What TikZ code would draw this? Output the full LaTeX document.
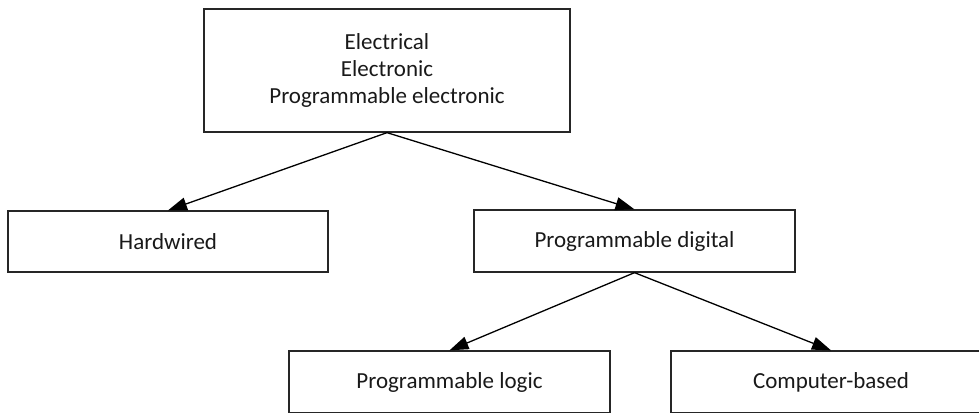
\documentclass[tikz,border=0pt]{standalone}
\usepackage{fontspec}
\setmainfont{Carlito}
\usetikzlibrary{arrows.meta}
\begin{document}
\begin{tikzpicture}[x=1pt,y=-1pt,
  box/.style={draw=black!85, line width=1.3pt, rectangle, inner sep=0pt,
    font=\fontsize{23}{27}\selectfont, align=center, text=black!90},
  link/.style={line width=1.3pt, -{Triangle[length=19pt,width=13pt]}}]
  \useasboundingbox (0,0) rectangle (979,412);
  % top-level category
  \node[box, minimum width=366pt, minimum height=123pt] (eee) at (387,70.5)
    {Electrical\\Electronic\\Programmable electronic};
  % second level
  \node[box, minimum width=320pt, minimum height=61pt] (hw) at (168,241.5) {Hardwired};
  \node[box, minimum width=321pt, minimum height=62pt] (pd) at (634.5,241) {Programmable digital};
  % third level
  \node[box, minimum width=321pt, minimum height=62pt] (pl) at (449.5,382) {Programmable logic};
  \node[box, minimum width=320pt, minimum height=62pt] (cb) at (831,382) {Computer-based};
  % connectors
  \draw[link] (eee.south) -- (hw.north);
  \draw[link] (eee.south) -- (pd.north);
  \draw[link] (pd.south) -- (pl.north);
  \draw[link] (pd.south) -- (cb.north);
\end{tikzpicture}
\end{document}
